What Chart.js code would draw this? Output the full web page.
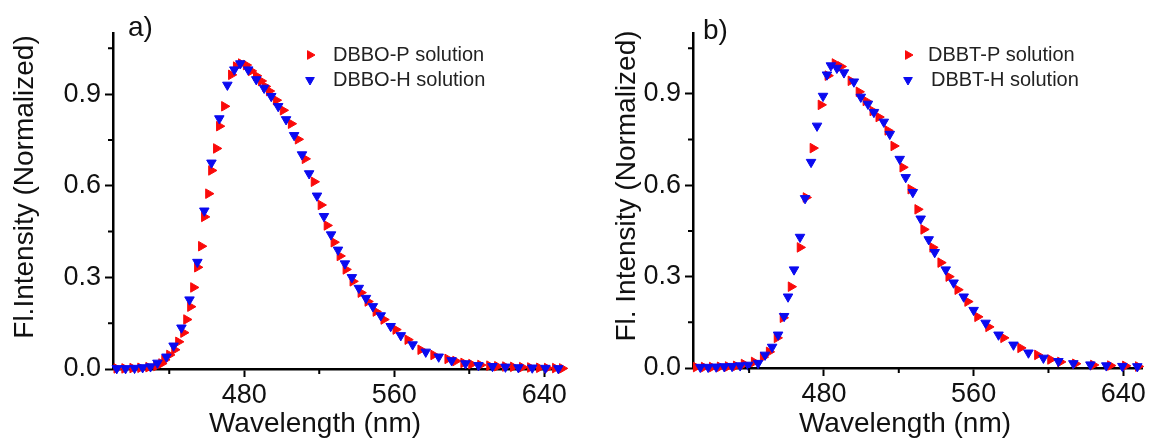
<!DOCTYPE html>
<html>
<head>
<meta charset="utf-8">
<script src="https://cdn.jsdelivr.net/npm/chart.js@4.4.1/dist/chart.umd.min.js"></script>
<style>
  body { margin: 0; background: #fff; }
  #wrap { position: relative; width: 1149px; height: 439px; overflow: hidden; }
  canvas { position: absolute; top: 0; }
  #chartA { left: 0; }
  #chartB { left: 580px; }
</style>
</head>
<body>
<div id="wrap">
  <canvas id="chartA" width="574" height="439"></canvas>
  <canvas id="chartB" width="569" height="439"></canvas>
</div>
<script>
// panel a) DBBO
const aWlP = [412.0, 416.2, 420.5, 424.7, 429.0, 433.2, 435.9, 437.5, 440.1, 442.8, 444.9, 447.6, 449.2, 451.3, 452.9, 455.0, 457.1, 458.7, 460.9, 462.5, 465.1, 466.7, 469.4, 473.1, 475.7, 478.4, 481.0, 483.7, 486.4, 489.0, 491.2, 493.3, 497.0, 500.7, 505.0, 508.7, 512.4, 517.2, 520.9, 524.1, 527.8, 531.0, 534.2, 537.9, 542.2, 545.9, 550.2, 554.4, 560.8, 567.2, 574.1, 581.0, 588.5, 592.7, 597.0, 601.2, 606.0, 610.8, 615.0, 619.3, 623.5, 628.3, 632.6, 637.4, 641.6, 645.9, 649.6];
const aIntP = [0.002, 0.002, 0.003, 0.004, 0.006, 0.010, 0.018, 0.030, 0.046, 0.063, 0.089, 0.119, 0.162, 0.204, 0.267, 0.333, 0.402, 0.498, 0.574, 0.650, 0.722, 0.795, 0.860, 0.963, 0.990, 1.000, 0.995, 0.976, 0.960, 0.943, 0.925, 0.910, 0.880, 0.847, 0.803, 0.752, 0.688, 0.613, 0.537, 0.470, 0.415, 0.370, 0.326, 0.287, 0.250, 0.221, 0.188, 0.162, 0.129, 0.096, 0.063, 0.046, 0.033, 0.026, 0.020, 0.016, 0.013, 0.011, 0.009, 0.008, 0.007, 0.006, 0.005, 0.004, 0.003, 0.003, 0.002];
const aWlH = [412.0, 416.7, 421.5, 425.8, 430.0, 433.7, 438.5, 442.3, 446.5, 450.8, 455.0, 458.7, 462.5, 466.7, 471.0, 474.7, 477.9, 482.1, 486.4, 490.6, 494.4, 498.1, 502.3, 506.6, 510.8, 514.6, 518.8, 522.5, 526.3, 530.0, 533.7, 537.4, 541.1, 544.9, 548.6, 552.8, 558.1, 563.5, 569.8, 576.8, 583.7, 590.6, 598.0, 604.9, 612.4, 619.3, 626.2, 633.6, 640.6, 647.5];
const aIntH = [0.002, 0.002, 0.003, 0.005, 0.008, 0.020, 0.040, 0.076, 0.135, 0.227, 0.350, 0.518, 0.675, 0.820, 0.930, 0.980, 1.000, 0.980, 0.948, 0.920, 0.893, 0.860, 0.817, 0.765, 0.702, 0.640, 0.567, 0.500, 0.440, 0.390, 0.345, 0.300, 0.265, 0.232, 0.205, 0.175, 0.140, 0.110, 0.080, 0.056, 0.040, 0.028, 0.018, 0.012, 0.009, 0.007, 0.005, 0.004, 0.003, 0.002];

// panel b) DBBT
const bWlP = [411.7, 416.0, 420.3, 424.5, 428.8, 433.1, 437.3, 442.7, 447.5, 450.7, 454.9, 458.1, 462.4, 467.2, 470.4, 474.1, 478.4, 482.1, 485.9, 489.1, 494.4, 498.7, 502.4, 506.1, 509.3, 514.1, 517.3, 522.1, 526.4, 530.1, 533.3, 538.1, 542.4, 546.7, 551.5, 556.8, 562.1, 568.0, 576.0, 585.1, 594.1, 601.1, 606.4, 614.4, 624.0, 633.1, 641.1, 648.0];
const bIntP = [0.003, 0.003, 0.003, 0.004, 0.005, 0.007, 0.013, 0.020, 0.036, 0.053, 0.099, 0.165, 0.267, 0.396, 0.560, 0.722, 0.864, 0.960, 1.000, 0.990, 0.943, 0.907, 0.877, 0.844, 0.824, 0.780, 0.729, 0.659, 0.587, 0.521, 0.455, 0.396, 0.346, 0.300, 0.257, 0.218, 0.168, 0.135, 0.099, 0.066, 0.043, 0.028, 0.020, 0.014, 0.010, 0.008, 0.007, 0.005];
const bWlH = [413.9, 418.1, 422.4, 426.7, 430.9, 435.2, 439.5, 444.8, 448.5, 452.3, 455.5, 458.7, 460.8, 464.0, 467.2, 469.9, 473.1, 476.3, 479.5, 481.6, 483.7, 486.9, 490.7, 496.0, 499.7, 503.5, 506.7, 512.0, 515.2, 520.5, 523.7, 527.5, 531.7, 536.0, 539.2, 545.1, 549.3, 554.7, 560.0, 566.4, 573.3, 581.3, 589.3, 597.3, 605.3, 613.3, 622.4, 630.9, 639.5, 647.5];
const bIntH = [0.003, 0.003, 0.004, 0.005, 0.006, 0.008, 0.010, 0.016, 0.043, 0.069, 0.109, 0.170, 0.234, 0.323, 0.430, 0.557, 0.676, 0.795, 0.893, 0.963, 0.993, 0.985, 0.970, 0.940, 0.890, 0.867, 0.840, 0.808, 0.768, 0.686, 0.626, 0.577, 0.490, 0.422, 0.380, 0.323, 0.280, 0.234, 0.190, 0.148, 0.109, 0.076, 0.050, 0.033, 0.022, 0.015, 0.011, 0.008, 0.006, 0.005];

// axes
const xRange = [410, 650];
const yRange = [0, 1.1];
const xTicks = [480, 560, 640];
const xMinorTicks = [440, 520, 600];
const yTicks = [0, 0.3, 0.6, 0.9];
const yMinorTicks = [0.15, 0.45, 0.75, 1.05];

const FONT = "'Liberation Sans', Arial, sans-serif";
const RED = 'rgb(250, 10, 10)';
const BLUE = 'rgb(10, 10, 240)';
const MARK = 5.5;

const toPoints = (wl, inten) => wl.map((w, i) => ({ x: w, y: inten[i] }));

// minor ticks, titles, panel tag and legend drawn on top of the chart
const panelExtras = {
    id: 'panelExtras',
    afterDraw(chart, args, opts) {
        const ctx = chart.ctx;
        const xs = chart.scales.x;
        const ys = chart.scales.y;
        ctx.save();

        ctx.strokeStyle = '#000';
        ctx.lineWidth = 2;
        ctx.beginPath();
        xMinorTicks.forEach(v => {
            const px = xs.getPixelForValue(v);
            ctx.moveTo(px, ys.bottom);
            ctx.lineTo(px, ys.bottom + 5);
        });
        yMinorTicks.forEach(v => {
            const py = ys.getPixelForValue(v);
            ctx.moveTo(xs.left, py);
            ctx.lineTo(xs.left - 5, py);
        });
        ctx.stroke();

        ctx.fillStyle = '#111';
        ctx.textBaseline = 'alphabetic';

        // panel tag
        ctx.font = '28px ' + FONT;
        ctx.textAlign = 'left';
        ctx.fillText(opts.tag, opts.tagX, opts.tagY);

        // x title
        ctx.textAlign = 'center';
        ctx.fillText('Wavelength (nm)', opts.xTitleX, opts.xTitleY);

        // y title
        ctx.save();
        ctx.translate(opts.yTitleX, opts.yTitleY);
        ctx.rotate(-Math.PI / 2);
        ctx.fillText(opts.yTitle, 0, 0);
        ctx.restore();

        // legend
        ctx.font = '20px ' + FONT;
        ctx.textAlign = 'left';
        ctx.textBaseline = 'middle';
        chart.data.datasets.forEach((ds, i) => {
            const ly = opts.legendY + i * 25;
            ctx.fillStyle = ds.backgroundColor;
            ctx.strokeStyle = ds.borderColor;
            ctx.lineWidth = 1;
            Chart.helpers.drawPoint(ctx, { pointStyle: 'triangle', rotation: ds.pointRotation, radius: 5, borderWidth: 1 }, opts.legendMarkX, ly);
            ctx.fillStyle = '#222';
            ctx.fillText(ds.label, opts.legendTextX + (opts.legendShift[i] || 0), ly);
        });

        ctx.restore();
    }
};

const makeChart = (canvasId, labels, pData, hData, extras, rightPad) => {
    const ctx = document.getElementById(canvasId).getContext('2d');
    return new Chart(ctx, {
        type: 'scatter',
        data: {
            datasets: [{
                label: labels[0],
                data: pData,
                backgroundColor: RED,
                borderColor: RED,
                pointStyle: 'triangle',
                pointRotation: 90,
                pointRadius: MARK,
                borderWidth: 1,
                order: 2,
                clip: false
            }, {
                label: labels[1],
                data: hData,
                backgroundColor: BLUE,
                borderColor: BLUE,
                pointStyle: 'triangle',
                pointRotation: 180,
                pointRadius: MARK,
                borderWidth: 1,
                order: 1,
                clip: false
            }]
        },
        options: {
            responsive: false,
            animation: false,
            devicePixelRatio: 1,
            events: [],
            layout: { padding: { top: 33, right: rightPad, bottom: 0, left: 0 } },
            plugins: {
                legend: { display: false },
                tooltip: { enabled: false },
                panelExtras: extras
            },
            scales: {
                x: {
                    type: 'linear',
                    min: xRange[0],
                    max: xRange[1],
                    afterBuildTicks: (s) => { s.ticks = xTicks.map(v => ({ value: v })); },
                    afterFit: (s) => { s.height = extras.xAxisHeight; },
                    grid: { display: true, drawOnChartArea: false, drawTicks: true, tickLength: 8, tickWidth: 2, tickColor: '#000' },
                    border: { display: true, color: '#000', width: 2.5 },
                    ticks: { color: '#111', font: { family: FONT, size: 27 }, padding: 2, maxRotation: 0 }
                },
                y: {
                    type: 'linear',
                    min: yRange[0],
                    max: yRange[1],
                    afterBuildTicks: (s) => { s.ticks = yTicks.map(v => ({ value: v })); },
                    afterFit: (s) => { s.width = 113; },
                    grid: { display: true, drawOnChartArea: false, drawTicks: true, tickLength: 8, tickWidth: 2, tickColor: '#000' },
                    border: { display: true, color: '#000', width: 2.5 },
                    ticks: {
                        color: '#111',
                        font: { family: FONT, size: 27 },
                        padding: 4,
                        callback: (v) => Number(v).toFixed(1)
                    }
                }
            }
        },
        plugins: [panelExtras]
    });
};

makeChart('chartA', ['DBBO-P solution', 'DBBO-H solution'],
    toPoints(aWlP, aIntP), toPoints(aWlH, aIntH), {
        tag: 'a)', tagX: 128, tagY: 36,
        xTitleX: 315, xTitleY: 432,
        yTitle: 'Fl.Intensity (Normalized)', yTitleX: 33, yTitleY: 187,
        legendMarkX: 310, legendTextX: 333, legendY: 55, legendShift: [0, 0],
        xAxisHeight: 70
    }, 11);

makeChart('chartB', ['DBBT-P solution', 'DBBT-H solution'],
    toPoints(bWlP, bIntP), toPoints(bWlH, bIntH), {
        tag: 'b)', tagX: 123, tagY: 39,
        xTitleX: 325, xTitleY: 432,
        yTitle: 'Fl. Intensity (Normalized)', yTitleX: 55, yTitleY: 186,
        legendMarkX: 328, legendTextX: 348, legendY: 55, legendShift: [0, 3],
        xAxisHeight: 71
    }, 7);
</script>
</body>
</html>
